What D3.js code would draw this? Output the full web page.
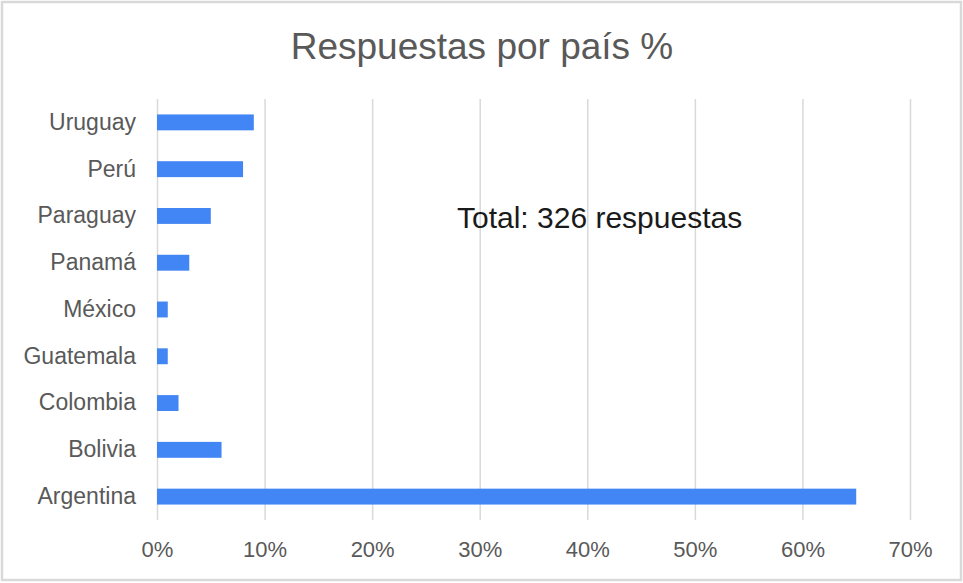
<!DOCTYPE html>
<html>
<head>
<meta charset="utf-8">
<script src="https://cdn.jsdelivr.net/npm/d3@7"></script>
<style>
  html, body { margin: 0; padding: 0; background: #ffffff; }
  svg { display: block; font-family: "Liberation Sans", Arial, sans-serif; }
</style>
</head>
<body>
<svg id="chart" width="963" height="583"></svg>
<script>
// Countries from top to bottom and their share of answers (%)
const countries = ["Uruguay", "Perú", "Paraguay", "Panamá", "México", "Guatemala", "Colombia", "Bolivia", "Argentina"];
const shares = [9, 8, 5, 3, 1, 1, 2, 6, 65];
const xTicks = [0, 10, 20, 30, 40, 50, 60, 70];
const titleText = "Respuestas por país %";
const noteText = "Total: 326 respuestas";

const svg = d3.select("#chart");
const W = 963, H = 583;
const plot = { left: 157, right: 910, top: 99, bottom: 520 };

// outer frame
svg.append("rect")
  .attr("x", 2).attr("y", 2).attr("width", W - 4).attr("height", H - 5)
  .attr("fill", "#ffffff").attr("stroke", "#d9d9d9").attr("stroke-width", 2.5);

const x = d3.scaleLinear().domain([0, 70]).range([plot.left, plot.right]);
const y = d3.scaleBand().domain(countries).range([plot.top, plot.bottom])
  .paddingInner(0.66).paddingOuter(0.33);

// vertical gridlines with percentage labels
const xAxis = d3.axisBottom(x).tickValues(xTicks).tickFormat(d => d + "%")
  .tickSize(-(plot.bottom - plot.top)).tickPadding(21);
const gx = svg.append("g").attr("transform", `translate(0,${plot.bottom})`).call(xAxis);
gx.select(".domain").remove();
gx.selectAll(".tick line").attr("stroke", "#d9d9d9").attr("stroke-width", 1.5);
gx.selectAll(".tick text").attr("fill", "#595959").attr("font-size", 22)
  .attr("font-family", "'Liberation Sans', Arial, sans-serif");

// country labels
const yAxis = d3.axisLeft(y).tickSize(0).tickPadding(21);
const gy = svg.append("g").attr("transform", `translate(${plot.left},0)`).call(yAxis);
gy.select(".domain").remove();
gy.selectAll(".tick text").attr("fill", "#595959").attr("font-size", 23)
  .attr("font-family", "'Liberation Sans', Arial, sans-serif");

// bars
svg.append("g").selectAll("rect")
  .data(countries.map((c, i) => ({ country: c, value: shares[i] })))
  .join("rect")
  .attr("x", x(0))
  .attr("y", d => y(d.country))
  .attr("width", d => x(d.value) - x(0))
  .attr("height", y.bandwidth())
  .attr("fill", "#4285f4");

// title
svg.append("text")
  .attr("x", 482).attr("y", 59)
  .attr("text-anchor", "middle")
  .attr("fill", "#595959").attr("font-size", 37)
  .text(titleText);

// total annotation
svg.append("text")
  .attr("x", 457).attr("y", 228)
  .attr("fill", "#1a1a1a").attr("font-size", 30)
  .text(noteText);
</script>
</body>
</html>
